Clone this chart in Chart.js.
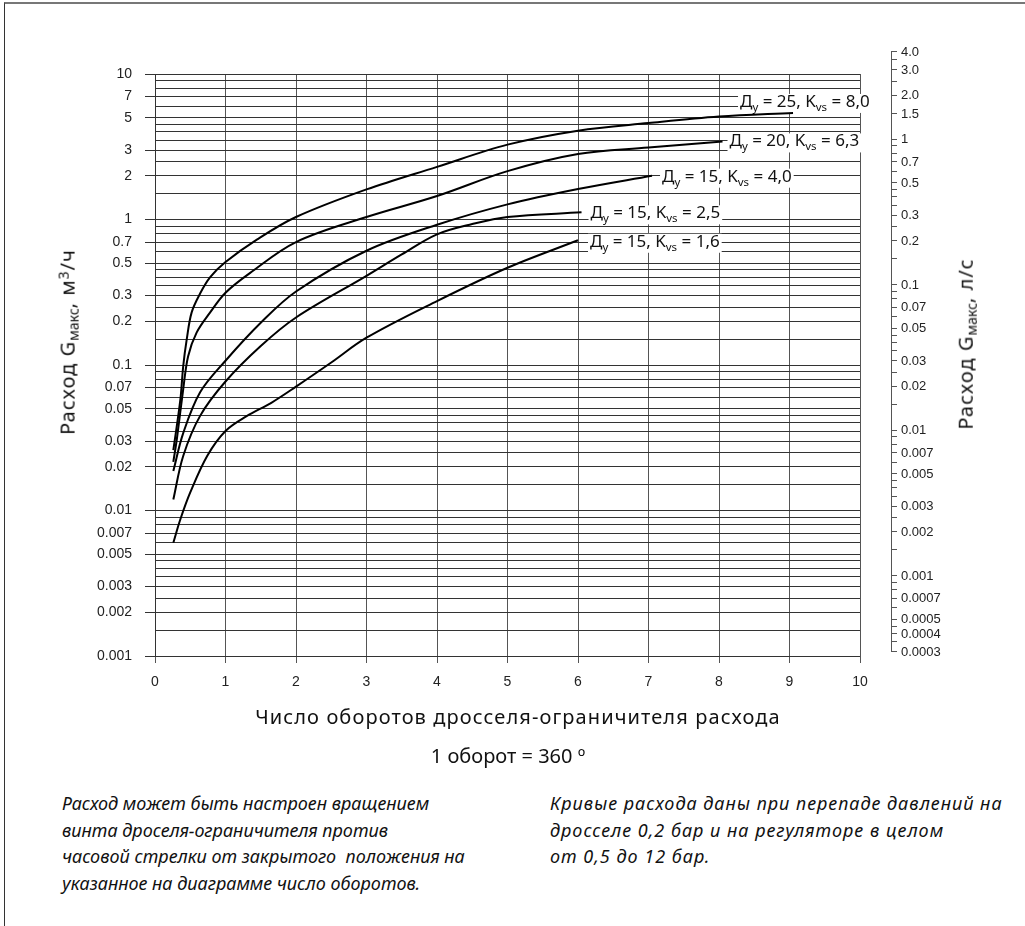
<!DOCTYPE html>
<html>
<head>
<meta charset="utf-8">
<title>Расход через дроссель-ограничитель</title>
<script src="https://cdn.jsdelivr.net/npm/chart.js@4.4.0/dist/chart.umd.min.js"></script>
<style>
  html, body { margin: 0; padding: 0; background: #fff; }
  body { width: 1025px; height: 926px; position: relative; overflow: hidden; font-family: "Noto Sans", "Open Sans", sans-serif; color: #111; }
  #frame { position: absolute; left: 4px; top: 2px; right: -10px; bottom: -10px; border-top: 2px solid #777; border-left: 1px solid #333; }
  #wrap { position: absolute; left: 0; top: 0; width: 1025px; height: 780px; }
  .title { position: absolute; white-space: nowrap; font-size: 20px; transform: translate(-50%, -50%); }
  .rot { transform: translate(-50%, -50%) rotate(-90deg); letter-spacing: 1px; }
  .title sub { font-size: 0.7em; vertical-align: -0.25em; letter-spacing: 0; }
  .title sup { font-size: 0.7em; vertical-align: 0.45em; }
  .note { position: absolute; top: 790px; font-style: italic; font-size: 18px; line-height: 26.5px; white-space: pre; color: #111; }
</style>
</head>
<body>
<div id="frame"></div>
<div id="wrap"><canvas id="chart" width="1025" height="780"></canvas></div>
<div class="title rot" style="left:68px; top:342px;">Расход G<sub>макс</sub>, м<sup>3</sup>/ч</div>
<div class="title rot" style="left:966px; top:344px;">Расход G<sub>макс</sub>, л/с</div>
<div class="title" style="left:518px; top:716px; letter-spacing:1.1px;">Число оборотов дросселя-ограничителя расхода</div>
<div class="title" style="left:508px; top:755px;">1 оборот = 360 º</div>
<div class="note" style="left:62px;">Расход может быть настроен вращением
винта дроселя-ограничителя против
часовой стрелки от закрытого  положения на
указанное на диаграмме число оборотов.</div>
<div class="note" style="left:550px; letter-spacing:1px;">Кривые расхода даны при перепаде давлений на
дросселе 0,2 бар и на регуляторе в целом
от 0,5 до 12 бар.</div>
<script>
// кривые: число оборотов -> расход, м3/ч
const turnsA = [0.26, 0.36, 0.40, 0.45, 0.52, 0.64, 0.78, 1.0, 1.45, 2, 3, 4, 5, 6, 7, 8, 9.05];
const flowA  = [0.026, 0.058, 0.098, 0.15, 0.23, 0.31, 0.40, 0.51, 0.73, 1.04, 1.61, 2.30, 3.27, 4.08, 4.6, 5.1, 5.4];

const turnsB = [0.26, 0.31, 0.40, 0.47, 0.59, 0.78, 1.0, 1.35, 2, 3, 4, 5, 6, 7, 8.05];
const flowB  = [0.0216, 0.031, 0.068, 0.115, 0.167, 0.229, 0.314, 0.43, 0.70, 1.04, 1.45, 2.15, 2.82, 3.12, 3.44];

const turnsC = [0.26, 0.40, 0.64, 1.0, 1.5, 2, 3, 4, 5, 6, 7.05];
const flowC  = [0.0187, 0.034, 0.065, 0.107, 0.195, 0.32, 0.61, 0.92, 1.27, 1.62, 2.0];

const turnsD = [0.26, 0.40, 0.64, 1.0, 1.5, 2, 3, 3.5, 4, 4.5, 5, 6.05];
const flowD  = [0.0119, 0.0237, 0.0447, 0.077, 0.135, 0.212, 0.41, 0.575, 0.79, 0.93, 1.04, 1.12];

const turnsE = [0.26, 0.36, 0.5, 0.74, 1.0, 1.3, 1.65, 2, 2.5, 3, 4, 5, 6.0];
const flowE  = [0.006, 0.0087, 0.0133, 0.0237, 0.0352, 0.0445, 0.055, 0.071, 0.104, 0.154, 0.275, 0.466, 0.72];

const diameters = [25, 20, 15, 15, 15];
const kvsText = ['8,0', '6,3', '4,0', '2,5', '1,6'];

// оси
const leftLabels = [10, 7, 5, 3, 2, 1, 0.7, 0.5, 0.3, 0.2, 0.1, 0.07, 0.05, 0.03, 0.02, 0.01, 0.007, 0.005, 0.003, 0.002, 0.001];
const gridSteps = [1, 1.5, 2, 2.5, 3, 3.5, 4, 4.5, 5, 6, 7, 8, 9];
const decades = [0.001, 0.01, 0.1, 1];
const rightLabels = [4.0, 3.0, 2.0, 1.5, 1, 0.7, 0.5, 0.3, 0.2, 0.1, 0.07, 0.05, 0.03, 0.02, 0.01, 0.007, 0.005, 0.003, 0.002, 0.001, 0.0007, 0.0005, 0.0004, 0.0003];
const rightText = ['4.0', '3.0', '2.0', '1.5', '1', '0.7', '0.5', '0.3', '0.2', '0.1', '0.07', '0.05', '0.03', '0.02', '0.01', '0.007', '0.005', '0.003', '0.002', '0.001', '0.0007', '0.0005', '0.0004', '0.0003'];
const rightDecades = [0.0001, 0.001, 0.01, 0.1, 1];
const M3H_PER_LS = 3.6;

// сдвиг подписи от конца кривой (px)
const labelOffsets = [[-53, -6], [7, 5], [10, 6], [9, 6], [12, 6.5]];

const round = v => +v.toPrecision(3);
const gridValues = [];
decades.forEach(d => gridSteps.forEach(s => gridValues.push(round(d * s))));
gridValues.push(10);
const labeled = new Set(leftLabels.map(String));

const rightMin = rightLabels[rightLabels.length - 1], rightMax = rightLabels[0];
const rightMinor = [];
rightDecades.forEach(d => gridSteps.forEach(s => {
  const v = round(d * s);
  if (v >= rightMin && v <= rightMax) rightMinor.push(v);
}));

function pts(xs, ys) { return xs.map((x, i) => ({ x: x, y: ys[i] })); }
function line(data) {
  return { data: data, borderColor: '#000', borderWidth: 2, pointRadius: 0, fill: false, tension: 0.35 };
}

function richText(ctx, parts, x, base, draw) {
  let cx = x;
  parts.forEach(p => {
    ctx.font = p[1] ? '11.5px "Noto Sans"' : '17px "Noto Sans"';
    if (draw) ctx.fillText(p[0], cx, base + (p[1] ? 4 : 0));
    cx += ctx.measureText(p[0]).width;
  });
  return cx - x;
}

const curveLabels = {
  id: 'curveLabels',
  beforeDatasetsDraw(chart) {
    const ctx = chart.ctx;
    ctx.save();
    ctx.textBaseline = 'alphabetic';
    chart.data.datasets.forEach((ds, i) => {
      const meta = chart.getDatasetMeta(i).data;
      const end = meta[meta.length - 1];
      const x = end.x + labelOffsets[i][0];
      const base = end.y + labelOffsets[i][1];
      const parts = [['Д', 0], ['у', 1], [' = ' + diameters[i] + ', K', 0], ['vs', 1], [' = ' + kvsText[i], 0]];
      const w = richText(ctx, parts, x, base, false);
      ctx.fillStyle = '#fff';
      ctx.fillRect(x - 2, base - 13, w + 4, 19);
      ctx.fillStyle = '#111';
      richText(ctx, parts, x, base, true);
    });
    ctx.restore();
  }
};

const rightAxis = {
  id: 'rightAxis',
  afterDraw(chart) {
    const ctx = chart.ctx, ys = chart.scales.y;
    const ax = chart.chartArea.right + 31;
    const py = v => ys.getPixelForValue(v * M3H_PER_LS);
    ctx.save();
    ctx.strokeStyle = '#555';
    ctx.lineWidth = 1;
    ctx.beginPath();
    ctx.moveTo(ax + 0.5, Math.round(py(rightMax)));
    ctx.lineTo(ax + 0.5, Math.round(py(rightMin)));
    rightMinor.concat(rightLabels).forEach(v => {
      const y = Math.round(py(v)) + 0.5;
      ctx.moveTo(ax, y);
      ctx.lineTo(ax + 6, y);
    });
    ctx.stroke();
    ctx.fillStyle = '#222';
    ctx.font = '13px "Liberation Sans", Arial, sans-serif';
    ctx.textBaseline = 'middle';
    ctx.textAlign = 'left';
    rightLabels.forEach((v, i) => ctx.fillText(rightText[i], ax + 10, py(v) + 1));
    ctx.restore();
  }
};

new Chart(document.getElementById('chart'), {
  type: 'line',
  data: {
    datasets: [line(pts(turnsA, flowA)), line(pts(turnsB, flowB)), line(pts(turnsC, flowC)), line(pts(turnsD, flowD)), line(pts(turnsE, flowE))]
  },
  options: {
    responsive: false,
    animation: false,
    devicePixelRatio: 1,
    layout: { padding: { left: 0, right: 165, top: 74, bottom: 84 } },
    plugins: { legend: { display: false }, tooltip: { enabled: false } },
    scales: {
      x: {
        type: 'linear', min: 0, max: 10,
        afterFit: s => { s.height = 40; },
        ticks: { stepSize: 1, color: '#222', padding: 11, font: { family: '"Liberation Sans", Arial', size: 14 } },
        grid: { color: '#555', tickLength: 7, tickColor: '#555' },
        border: { display: false }
      },
      y: {
        type: 'logarithmic', min: 0.001, max: 10,
        afterFit: s => { s.width = 155; },
        afterBuildTicks: s => { s.ticks = gridValues.map(v => ({ value: v })); },
        ticks: {
          autoSkip: false, color: '#222', padding: 13,
          font: { family: '"Liberation Sans", Arial', size: 14 },
          callback: v => labeled.has(String(round(v))) ? String(round(v)) : ''
        },
        grid: {
          color: '#333', tickLength: 10,
          tickColor: c => labeled.has(String(round(c.tick.value))) ? '#333' : 'rgba(0,0,0,0)'
        },
        border: { display: true, color: '#333' }
      }
    }
  },
  plugins: [curveLabels, rightAxis]
});
</script>
</body>
</html>
